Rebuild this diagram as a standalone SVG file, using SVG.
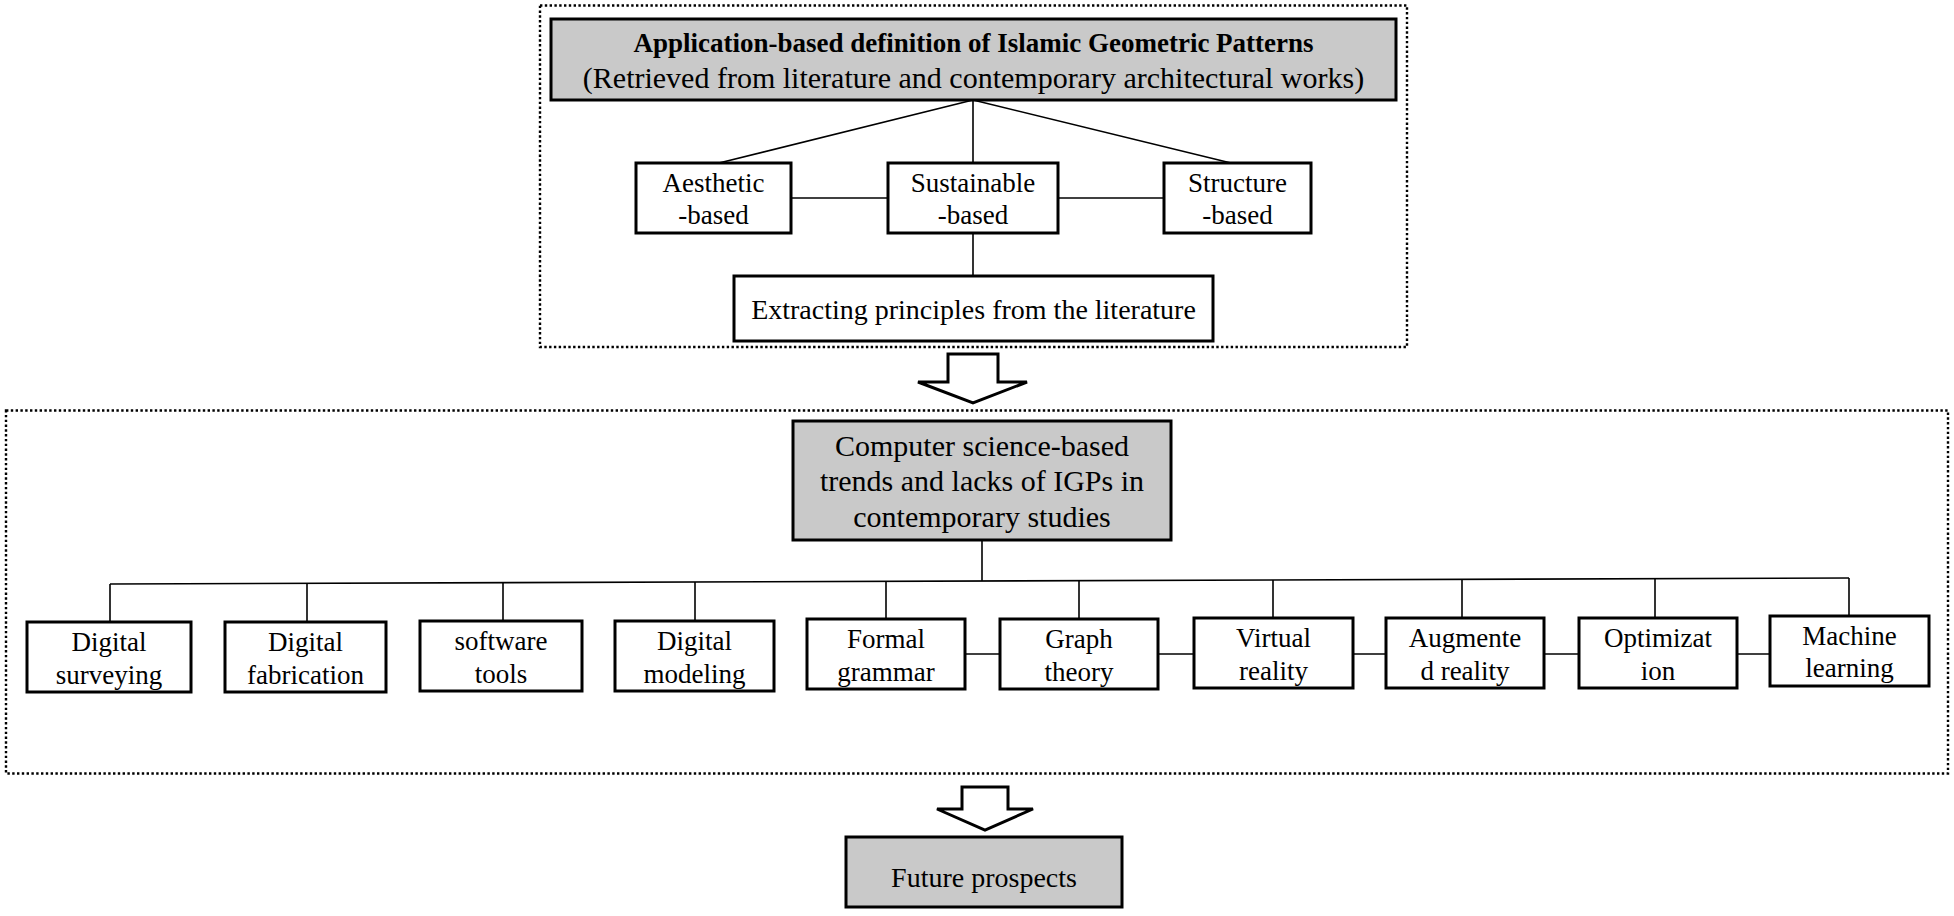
<svg xmlns="http://www.w3.org/2000/svg" width="1954" height="916" viewBox="0 0 1954 916">
<style>
  .frame{fill:none;stroke:#000;stroke-width:2.4;stroke-dasharray:2.4 2.4}
  .box{fill:#fff;stroke:#000;stroke-width:3}
  .gbox{fill:#c9c9c9;stroke:#000;stroke-width:3}
  .ln{fill:none;stroke:#000;stroke-width:1.6}
  .arr{fill:#fff;stroke:#000;stroke-width:3;stroke-linejoin:miter}
  text{font-family:"Liberation Serif","Times New Roman",serif;fill:#000;text-anchor:middle}
  .t{font-size:27px}
  .tl{font-size:28px}
  .tg{font-size:30px}
  .tb{font-size:27px;font-weight:bold}
</style>
<rect width="1954" height="916" fill="#fff"/>

<g id="frames">
  <rect class="frame" x="540" y="5.5" width="867" height="341.5"/>
  <rect class="frame" x="6" y="410.5" width="1942" height="363"/>
</g>

<g id="connectors">
  <line class="ln" x1="973" y1="100" x2="719" y2="163"/>
  <line class="ln" x1="973" y1="100" x2="973" y2="163"/>
  <line class="ln" x1="973" y1="100" x2="1231" y2="163"/>
  <line class="ln" x1="791" y1="198" x2="888" y2="198"/>
  <line class="ln" x1="1058" y1="198" x2="1164" y2="198"/>
  <line class="ln" x1="973" y1="233" x2="973" y2="276"/>

  <line class="ln" x1="982" y1="540" x2="982" y2="581"/>
  <line class="ln" x1="110" y1="584" x2="1849" y2="578"/>
  <line class="ln" x1="110" y1="584" x2="110" y2="622"/>
  <line class="ln" x1="307" y1="583.3" x2="307" y2="622"/>
  <line class="ln" x1="503" y1="582.6" x2="503" y2="621"/>
  <line class="ln" x1="695" y1="582" x2="695" y2="621"/>
  <line class="ln" x1="886" y1="581.3" x2="886" y2="619"/>
  <line class="ln" x1="1079" y1="580.7" x2="1079" y2="619"/>
  <line class="ln" x1="1273" y1="580" x2="1273" y2="618"/>
  <line class="ln" x1="1462" y1="579.4" x2="1462" y2="618"/>
  <line class="ln" x1="1655" y1="578.7" x2="1655" y2="618"/>
  <line class="ln" x1="1849" y1="578" x2="1849" y2="616"/>
  <line class="ln" x1="965" y1="654" x2="1000" y2="654"/>
  <line class="ln" x1="1158" y1="654" x2="1194" y2="654"/>
  <line class="ln" x1="1353" y1="654" x2="1386" y2="654"/>
  <line class="ln" x1="1544" y1="654" x2="1579" y2="654"/>
  <line class="ln" x1="1737" y1="654" x2="1770" y2="654"/>

  <polygon class="arr" points="948,354 998,354 998,382 1027,382 973,403 918,382 948,382"/>
  <polygon class="arr" points="962,787 1008,787 1008,809 1033,809 985,830 937,809 962,809"/>
</g>

<g id="n-title">
  <rect class="gbox" x="551" y="19" width="845" height="81"/>
  <text class="tb" x="973.5" y="52">Application-based definition of Islamic Geometric Patterns</text>
  <text class="tg" x="973.5" y="88">(Retrieved from literature and contemporary architectural works)</text>
</g>
<g id="n-aesthetic">
  <rect class="box" x="636" y="163" width="155" height="70"/>
  <text class="t" x="713.5" y="192">Aesthetic</text>
  <text class="t" x="713.5" y="224">-based</text>
</g>
<g id="n-sustainable">
  <rect class="box" x="888" y="163" width="170" height="70"/>
  <text class="t" x="973" y="192">Sustainable</text>
  <text class="t" x="973" y="224">-based</text>
</g>
<g id="n-structure">
  <rect class="box" x="1164" y="163" width="147" height="70"/>
  <text class="t" x="1237.5" y="192">Structure</text>
  <text class="t" x="1237.5" y="224">-based</text>
</g>
<g id="n-extracting">
  <rect class="box" x="734" y="276" width="479" height="65"/>
  <text class="tl" x="973.5" y="319">Extracting principles from the literature</text>
</g>

<g id="n-cs">
  <rect class="gbox" x="793" y="421" width="378" height="119"/>
  <text class="tg" x="982" y="456">Computer science-based</text>
  <text class="tg" x="982" y="491">trends and lacks of IGPs in</text>
  <text class="tg" x="982" y="527">contemporary studies</text>
</g>

<g id="n-surveying">
  <rect class="box" x="27" y="622" width="164" height="70"/>
  <text class="t" x="109" y="651">Digital</text>
  <text class="t" x="109" y="684">surveying</text>
</g>
<g id="n-fabrication">
  <rect class="box" x="225" y="622" width="161" height="70"/>
  <text class="t" x="305.5" y="651">Digital</text>
  <text class="t" x="305.5" y="684">fabrication</text>
</g>
<g id="n-software">
  <rect class="box" x="420" y="621" width="162" height="70"/>
  <text class="t" x="501" y="650">software</text>
  <text class="t" x="501" y="683">tools</text>
</g>
<g id="n-modeling">
  <rect class="box" x="615" y="621" width="159" height="70"/>
  <text class="t" x="694.5" y="650">Digital</text>
  <text class="t" x="694.5" y="683">modeling</text>
</g>
<g id="n-grammar">
  <rect class="box" x="807" y="619" width="158" height="70"/>
  <text class="t" x="886" y="648">Formal</text>
  <text class="t" x="886" y="681">grammar</text>
</g>
<g id="n-graph">
  <rect class="box" x="1000" y="619" width="158" height="70"/>
  <text class="t" x="1079" y="648">Graph</text>
  <text class="t" x="1079" y="681">theory</text>
</g>
<g id="n-vr">
  <rect class="box" x="1194" y="618" width="159" height="70"/>
  <text class="t" x="1273.5" y="647">Virtual</text>
  <text class="t" x="1273.5" y="680">reality</text>
</g>
<g id="n-ar">
  <rect class="box" x="1386" y="618" width="158" height="70"/>
  <text class="t" x="1465" y="647">Augmente</text>
  <text class="t" x="1465" y="680">d reality</text>
</g>
<g id="n-opt">
  <rect class="box" x="1579" y="618" width="158" height="70"/>
  <text class="t" x="1658" y="647">Optimizat</text>
  <text class="t" x="1658" y="680">ion</text>
</g>
<g id="n-ml">
  <rect class="box" x="1770" y="616" width="159" height="70"/>
  <text class="t" x="1849.5" y="645">Machine</text>
  <text class="t" x="1849.5" y="677">learning</text>
</g>

<g id="n-future">
  <rect class="gbox" x="846" y="837" width="276" height="70"/>
  <text class="tl" x="984" y="887">Future prospects</text>
</g>
</svg>
